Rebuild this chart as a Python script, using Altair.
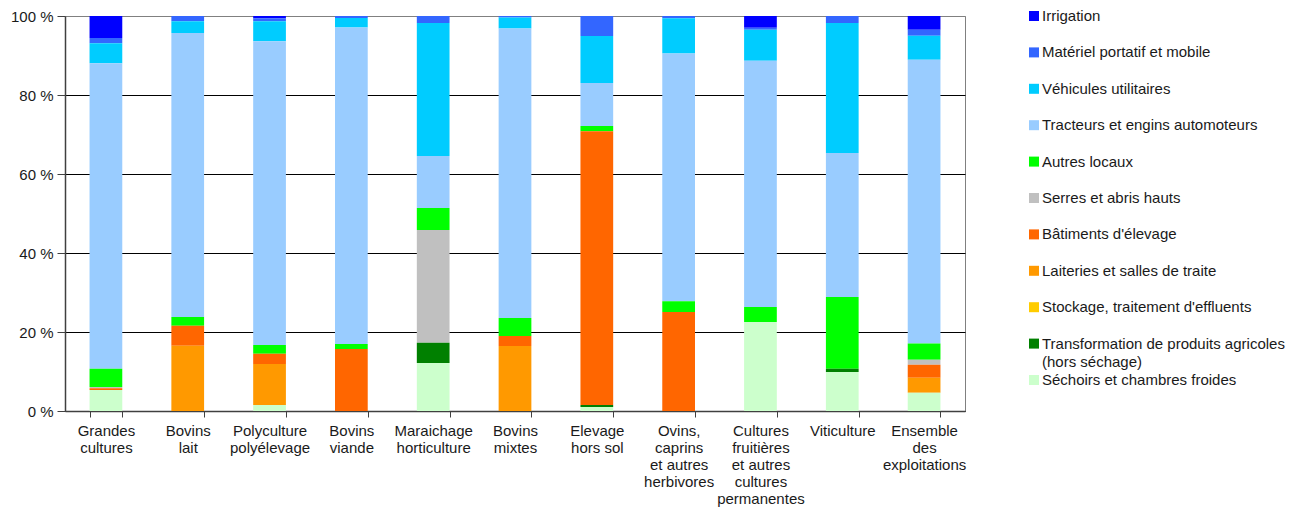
import altair as alt
import pandas as pd

categories = [
    "Grandes|cultures", "Bovins|lait", "Polyculture|polyélevage", "Bovins|viande",
    "Maraichage|horticulture", "Bovins|mixtes", "Elevage|hors sol",
    "Ovins,|caprins|et autres|herbivores",
    "Cultures|fruitières|et autres|cultures|permanentes",
    "Viticulture", "Ensemble|des|exploitations",
]

series_names = [
    "Irrigation", "Matériel portatif et mobile", "Véhicules utilitaires",
    "Tracteurs et engins automoteurs", "Autres locaux", "Serres et abris hauts",
    "Bâtiments d'élevage", "Laiteries et salles de traite",
    "Stockage, traitement d'effluents",
    "Transformation de produits agricoles (hors séchage)",
    "Séchoirs et chambres froides",
]
legend_line1 = [
    "Irrigation", "Matériel portatif et mobile", "Véhicules utilitaires",
    "Tracteurs et engins automoteurs", "Autres locaux", "Serres et abris hauts",
    "Bâtiments d'élevage", "Laiteries et salles de traite",
    "Stockage, traitement d'effluents",
    "Transformation de produits agricoles", "Séchoirs et chambres froides",
]
legend_line2 = ["", "", "", "", "", "", "", "", "", "(hors séchage)", ""]

colors = ["#0000FF", "#3366FF", "#00CCFF", "#99CCFF", "#00FF00", "#C0C0C0",
          "#FF6600", "#FF9900", "#FFCC00", "#008000", "#CCFFCC"]

irrigation = [5.6, 0, 0.6, 0, 0, 0, 0, 0, 3.0, 0, 3.5]
materiel = [1.3, 1.3, 0.7, 0.5, 1.8, 0.4, 5.1, 0.6, 0.5, 1.8, 1.5]
vehicules = [5.1, 3.0, 5.1, 2.4, 33.7, 2.8, 11.9, 8.9, 7.8, 32.9, 6.1]
tracteurs = [77.5, 71.9, 77.0, 80.3, 13.2, 73.4, 10.9, 62.8, 62.3, 36.5, 71.9]
autres_locaux = [4.6, 2.2, 2.2, 1.3, 5.6, 4.6, 1.3, 2.7, 3.8, 18.2, 4.1]
serres = [0.3, 0, 0, 0, 28.6, 0, 0, 0, 0, 0, 1.3]
batiments = [0.5, 5.1, 2.6, 15.7, 0, 2.5, 69.4, 25.1, 0, 0, 3.3]
laiteries = [0, 16.5, 10.4, 0, 0, 16.5, 0, 0, 0, 0, 3.8]
stockage = [0, 0, 0, 0, 0, 0, 0, 0, 0, 0, 0]
transformation = [0, 0, 0, 0, 5.1, 0, 0.5, 0, 0, 0.8, 0]
sechoirs = [5.3, 0, 1.5, 0, 12.2, 0, 1.0, 0, 22.5, 9.9, 4.6]

series_values = [irrigation, materiel, vehicules, tracteurs, autres_locaux, serres,
                 batiments, laiteries, stockage, transformation, sechoirs]

rows = []
n = len(series_names)
for si, (name, vals) in enumerate(zip(series_names, series_values)):
    for cat, v in zip(categories, vals):
        rows.append({"cat": cat, "series": name, "val": v, "ord": n - 1 - si})
df = pd.DataFrame(rows)

FONT = "Liberation Sans"
TXT = "#1a1a1a"
FS = 15
color_scale = alt.Scale(domain=series_names, range=colors)

bars = alt.Chart(df).mark_bar().encode(
    x=alt.X("cat:N", sort=categories,
            scale=alt.Scale(paddingInner=0.6, paddingOuter=0.3),
            axis=alt.Axis(title=None, labelAngle=0,
                          labelExpr="split(datum.label, '|')",
                          tickBand="extent", tickSize=6, tickColor="#404040",
                          domainColor="#404040", domainWidth=1.5,
                          labelFontSize=FS, labelLineHeight=17, labelPadding=6,
                          labelBaseline="top", labelAlign="center",
                          labelColor=TXT, labelFont=FONT, grid=False)),
    y=alt.Y("val:Q", stack="normalize",
            scale=alt.Scale(domain=[0, 1], nice=False),
            axis=alt.Axis(title=None, values=[0, 0.2, 0.4, 0.6, 0.8, 1],
                          labelExpr="format(datum.value*100, 'd') + ' %'",
                          tickSize=8, tickColor="#404040",
                          domainColor="#404040", domainWidth=1.5,
                          labelFontSize=FS, labelFont=FONT, labelColor=TXT,
                          labelPadding=4, minExtent=57, maxExtent=57,
                          grid=True,
                          gridColor={"condition": {"test": "datum.value === 1", "value": "#808080"},
                                     "value": "#000000"},
                          gridWidth=1)),
    color=alt.Color("series:N", scale=color_scale, legend=None),
    order=alt.Order("ord:Q", sort="ascending"),
).properties(width=900, height=395,
             view=alt.ViewBackground(stroke="#808080", strokeWidth=1))

leg_df = pd.DataFrame({"series": series_names, "l1": legend_line1, "l2": legend_line2})
base = alt.Chart(leg_df).encode(
    y=alt.Y("series:N", sort=series_names,
            scale=alt.Scale(type="point", padding=0, range=[0, 364]), axis=None)
)
sq = base.mark_square(size=100, opacity=1).encode(
    x=alt.value(46), color=alt.Color("series:N", scale=color_scale, legend=None))
tx = base.mark_text(align="left", baseline="middle", fontSize=FS, font=FONT,
                    color=TXT).encode(x=alt.value(54), text="l1:N")
tx2 = base.transform_filter("datum.l2 != ''").mark_text(
    align="left", baseline="middle", fontSize=FS, font=FONT, color=TXT, dy=18
).encode(x=alt.value(54), text="l2:N")
legend = alt.layer(sq, tx, tx2).properties(
    width=240, height=395, view=alt.ViewBackground(stroke="transparent"))

chart = alt.hconcat(bars, legend, spacing=20).properties(
    padding={"left": -1, "top": 0, "right": 0, "bottom": 0}
)

chart.save("out.html", embed_options={"renderer": "svg", "actions": False})
